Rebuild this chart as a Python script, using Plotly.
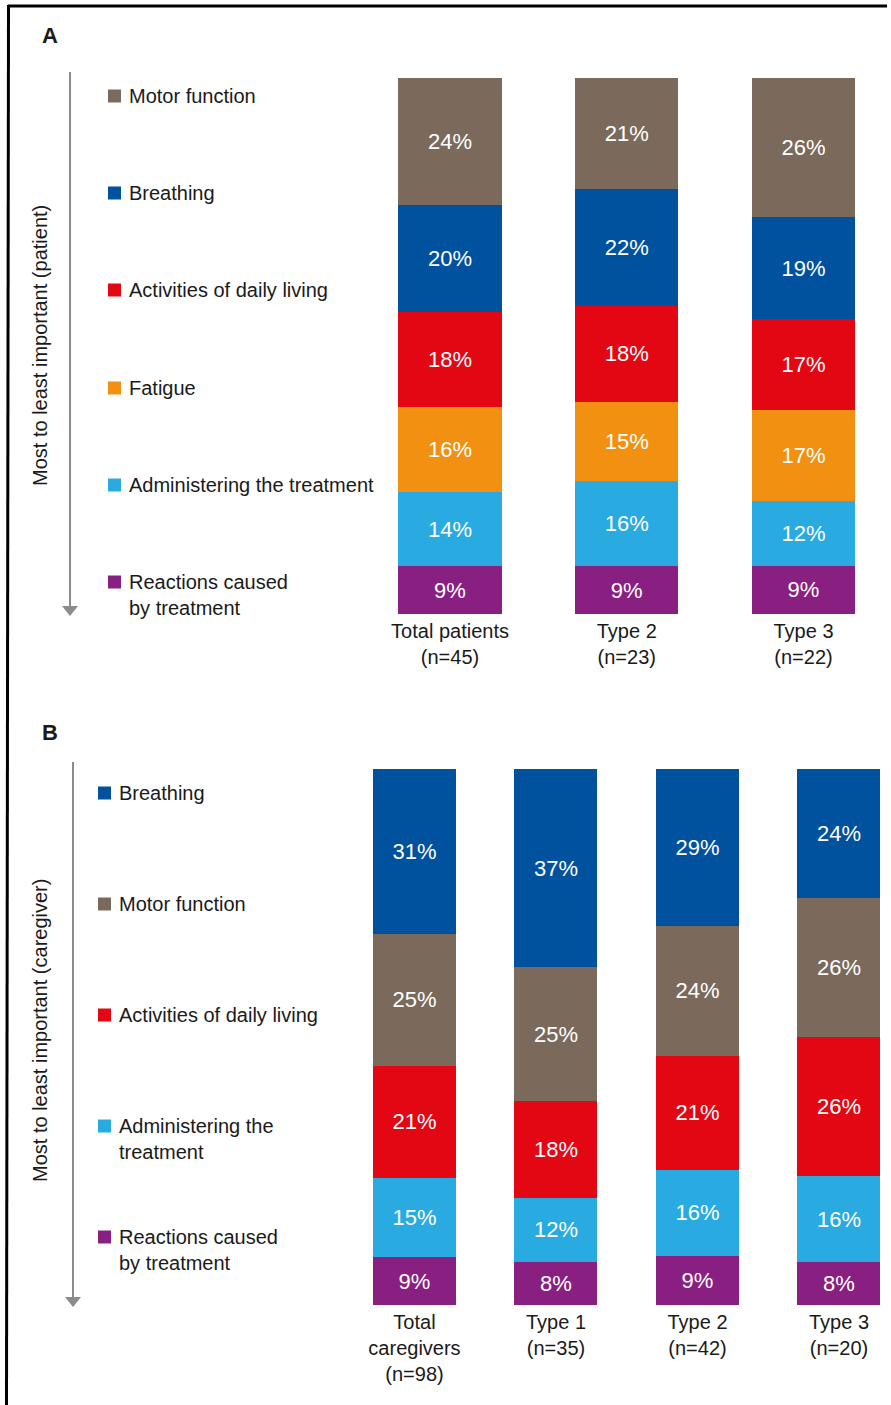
import plotly.graph_objects as go

# ---- Data -------------------------------------------------------------
# Panel A: patients, share of "most important" ranking by domain
a_groups = ["Total patients<br>(n=45)", "Type 2<br>(n=23)", "Type 3<br>(n=22)"]
a_motor = [24, 21, 26]
a_breathing = [20, 22, 19]
a_adl = [18, 18, 17]
a_fatigue = [16, 15, 17]
a_admin = [14, 16, 12]
a_reactions = [9, 9, 9]

# Panel B: caregivers
b_groups = ["Total<br>caregivers<br>(n=98)", "Type 1<br>(n=35)", "Type 2<br>(n=42)", "Type 3<br>(n=20)"]
b_breathing = [31, 37, 29, 24]
b_motor = [25, 25, 24, 26]
b_adl = [21, 18, 21, 26]
b_admin = [15, 12, 16, 16]
b_reactions = [9, 8, 9, 8]

# ---- Styling ----------------------------------------------------------
W, H = 891, 1405
FONT = "Liberation Sans, Arial, Helvetica, sans-serif"
COL = {
    "motor": "#7B6A5C",
    "breathing": "#00519E",
    "adl": "#E30613",
    "fatigue": "#F29111",
    "admin": "#29ABE2",
    "reactions": "#8A1F82",
}
ARROW = "#8C8C8C"
TXT = "#1a1a1a"


def xp(px):
    return px / W


def yp(py):
    return 1 - py / H


fig = go.Figure()

# stacked from bottom (least important) to top (most important)
a_series = [
    ("Reactions caused<br>by treatment", a_reactions, "reactions"),
    ("Administering the treatment", a_admin, "admin"),
    ("Fatigue", a_fatigue, "fatigue"),
    ("Activities of daily living", a_adl, "adl"),
    ("Breathing", a_breathing, "breathing"),
    ("Motor function", a_motor, "motor"),
]
b_series = [
    ("Reactions caused<br>by treatment", b_reactions, "reactions"),
    ("Administering the<br>treatment", b_admin, "admin"),
    ("Activities of daily living", b_adl, "adl"),
    ("Motor function", b_motor, "motor"),
    ("Breathing", b_breathing, "breathing"),
]

for name, vals, key in a_series:
    fig.add_trace(go.Bar(
        x=a_groups, y=vals, name=name, marker=dict(color=COL[key], line=dict(width=0)),
        width=0.584, text=[f"{v}%" for v in vals], textposition="inside",
        insidetextanchor="middle", textangle=0, constraintext="none",
        textfont=dict(color="white", size=22, family=FONT),
        xaxis="x", yaxis="y", showlegend=False,
    ))

for name, vals, key in b_series:
    fig.add_trace(go.Bar(
        x=b_groups, y=vals, name=name, marker=dict(color=COL[key], line=dict(width=0)),
        width=0.5866, text=[f"{v}%" for v in vals], textposition="inside",
        insidetextanchor="middle", textangle=0, constraintext="none",
        textfont=dict(color="white", size=22, family=FONT),
        xaxis="x2", yaxis="y2", showlegend=False,
    ))

axis_common = dict(showgrid=False, zeroline=False, showline=False, ticks="")

fig.update_layout(
    width=W, height=H,
    margin=dict(l=0, r=0, t=0, b=0),
    paper_bgcolor="white", plot_bgcolor="white",
    barmode="stack", barnorm="percent",
    font=dict(family=FONT, size=20, color=TXT),
    xaxis=dict(domain=[0.4, 1.0], range=[-0.5296, 2.495], type="category",
               tickfont=dict(size=20, color=TXT), ticklabelstandoff=3, **axis_common),
    yaxis=dict(domain=[yp(614), yp(78)], range=[0, 100], showticklabels=False, **axis_common),
    xaxis2=dict(domain=[0.38, 1.0], range=[-0.5364, 3.3675], type="category",
                tickfont=dict(size=20, color=TXT), ticklabelstandoff=3, anchor="y2", **axis_common),
    yaxis2=dict(domain=[yp(1305), yp(769)], range=[0, 100], showticklabels=False,
                anchor="x2", **axis_common),
    uniformtext=dict(mode=False),
)

shapes = []
annotations = []

# frame lines (top and left)
shapes.append(dict(type="line", xref="paper", yref="paper", x0=xp(8), x1=xp(887),
                   y0=yp(6), y1=yp(6), line=dict(color="black", width=3)))
shapes.append(dict(type="line", xref="paper", yref="paper", x0=xp(8.5), x1=xp(6.5),
                   y0=yp(5), y1=yp(1405), line=dict(color="black", width=3)))

# panel letters
for letter, cy in (("A", 35), ("B", 732)):
    annotations.append(dict(text=f"<b>{letter}</b>", x=xp(50), y=yp(cy), xref="paper", yref="paper",
                            showarrow=False, xanchor="center", yanchor="middle",
                            font=dict(size=22, family=FONT, color=TXT)))


def add_arrow(x, y0, y1):
    shapes.append(dict(type="line", xref="paper", yref="paper", x0=xp(x), x1=xp(x),
                       y0=yp(y0), y1=yp(y1 - 6), line=dict(color=ARROW, width=2)))
    shapes.append(dict(type="path", xref="paper", yref="paper",
                       path=f"M {xp(x - 8)} {yp(y1 - 10)} L {xp(x + 8)} {yp(y1 - 10)} L {xp(x)} {yp(y1)} Z",
                       fillcolor=ARROW, line=dict(width=0)))


add_arrow(70, 72, 616)
add_arrow(73, 762, 1307)

# rotated axis titles
annotations.append(dict(text="Most to least important (patient)", x=xp(40), y=yp(346),
                        xref="paper", yref="paper", showarrow=False, textangle=-90,
                        xanchor="center", yanchor="middle", font=dict(size=20, family=FONT, color=TXT)))
annotations.append(dict(text="Most to least important (caregiver)", x=xp(40), y=yp(1031),
                        xref="paper", yref="paper", showarrow=False, textangle=-90,
                        xanchor="center", yanchor="middle", font=dict(size=20, family=FONT, color=TXT)))


def add_key(series, sq_x, txt_x, rows):
    # series listed top-down for the key
    for (name, _vals, key), cy in zip(series, rows):
        shapes.append(dict(type="rect", xref="paper", yref="paper",
                           x0=xp(sq_x), x1=xp(sq_x + 13), y0=yp(cy - 6.5), y1=yp(cy + 6.5),
                           fillcolor=COL[key], line=dict(width=0)))
        annotations.append(dict(text=name, x=xp(txt_x), y=yp(cy - 13), xref="paper", yref="paper",
                                showarrow=False, xanchor="left", yanchor="top", align="left",
                                font=dict(size=20, family=FONT, color=TXT)))


add_key(list(reversed(a_series)), 108, 127, [96, 193, 290, 388, 485, 582])
add_key(list(reversed(b_series)), 98, 117, [793, 904, 1015, 1126, 1237])

fig.update_layout(shapes=shapes, annotations=annotations)

fig.write_html("out.html")
